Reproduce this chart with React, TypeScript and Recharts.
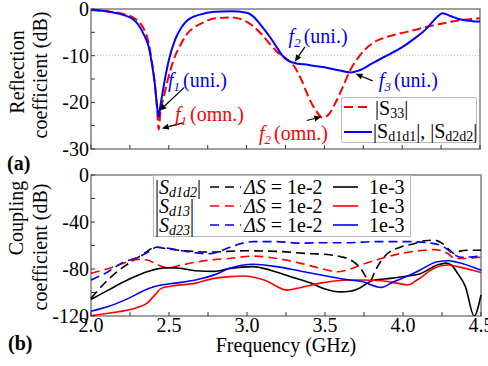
import React from 'react';
import {
  LineChart,
  Line,
  XAxis,
  YAxis,
  ReferenceArea,
  ReferenceLine,
  ReferenceDot,
  Legend,
} from 'recharts';

const FONT = '"Liberation Serif", "Times New Roman", serif';
const RED = '#ff0000';
const BLUE = '#0000ff';
const BLACK = '#000000';
const FRAME = '#808080';
const txt = { fontFamily: FONT };

// axis ticks
const freqTicks = [2, 2.25, 2.5, 2.75, 3, 3.25, 3.5, 3.75, 4, 4.25, 4.5];
const freqLabels = [2, 2.5, 3, 3.5, 4, 4.5];
const reflTicks = [-30, -25, -20, -15, -10, -5, 0];
const reflLabels = [-30, -20, -10, 0];
const coupTicks = [-120, -100, -80, -60, -40, -20, 0];
const coupLabels = [-120, -80, -40, 0];

// (a) reflection coefficient
const s33Freq = [2.0, 2.1, 2.2, 2.27, 2.3, 2.34, 2.37, 2.39, 2.41, 2.425, 2.435, 2.445, 2.47, 2.495, 2.53, 2.58, 2.62, 2.67, 2.72, 2.8, 2.9, 2.98, 3.04, 3.09, 3.15, 3.2, 3.25, 3.3, 3.35, 3.4, 3.45, 3.49, 3.53, 3.58, 3.62, 3.66, 3.72, 3.81, 3.9, 3.99, 4.08, 4.16, 4.26, 4.35, 4.5];
const s33Db = [-0.2, -0.5, -1.0, -1.8, -2.5, -4.3, -7.2, -11, -16, -21.5, -25.8, -22.5, -18.5, -15, -11, -7.4, -5.2, -3.8, -2.9, -2.0, -1.8, -2.4, -3.6, -5.2, -7.5, -9.3, -10.5, -12, -15, -19, -22, -23.3, -22.5, -19.5, -16.6, -13.5, -10.3, -7.3, -6.0, -5.2, -4.5, -3.8, -3.1, -2.5, -2.0];

const sd1d1Freq = [2.0, 2.1, 2.2, 2.27, 2.3, 2.34, 2.37, 2.39, 2.41, 2.425, 2.435, 2.445, 2.47, 2.5, 2.54, 2.58, 2.62, 2.7, 2.795, 2.9, 3.0, 3.05, 3.09, 3.15, 3.2, 3.23, 3.29, 3.4, 3.5, 3.6, 3.67, 3.72, 3.81, 3.9, 3.99, 4.08, 4.16, 4.21, 4.26, 4.31, 4.37, 4.45, 4.5];
const sd1d1Db = [-0.1, -0.5, -1.2, -2.2, -3.2, -5.5, -8, -11.5, -16, -21, -23.1, -21, -16, -11, -6.6, -4, -2.4, -1.2, -0.6, -0.5, -0.8, -1.8, -3.4, -6, -8.5, -10, -11.4, -12, -12.5, -13.2, -13.6, -13.2, -11.6, -10, -8.4, -6.3, -4.1, -2.2, -0.9, -1.5, -2.2, -2.6, -2.7];

// (b) coupling coefficient, ΔS = 1e-2 (dashed) and 1e-3 (solid)
const d1d2CoarseFreq = [2.0, 2.11, 2.2, 2.28, 2.35, 2.41, 2.5, 2.6, 2.77, 2.98, 3.19, 3.41, 3.5, 3.6, 3.66, 3.72, 3.79, 3.82, 3.88, 3.99, 4.07, 4.14, 4.2, 4.25, 4.3, 4.33, 4.36, 4.42, 4.5];
const d1d2CoarseDb = [-105, -89, -79, -72, -66, -61.5, -63, -64.5, -65.5, -64.5, -65, -67, -67.5, -69.5, -72, -78, -90, -82, -69.5, -61, -58.5, -56, -55.5, -58, -64, -67, -65, -64, -64];
const d1d2FineFreq = [2.0, 2.11, 2.24, 2.37, 2.47, 2.54, 2.67, 2.79, 2.89, 3.04, 3.15, 3.28, 3.41, 3.5, 3.6, 3.66, 3.71, 3.81, 3.92, 4.03, 4.11, 4.22, 4.275, 4.31, 4.35, 4.4, 4.456, 4.5];
const d1d2FineDb = [-106, -98, -89, -82, -79, -79, -81.5, -82, -79.5, -78, -81, -86.5, -92, -97, -99.5, -99, -97, -89.5, -88, -86, -84, -76.6, -75, -76.6, -83.7, -95, -120, -102];

const d13CoarseFreq = [2.0, 2.11, 2.24, 2.3, 2.36, 2.43, 2.49, 2.58, 2.69, 2.79, 2.89, 3.04, 3.19, 3.34, 3.47, 3.58, 3.64, 3.73, 3.86, 3.99, 4.11, 4.2, 4.29, 4.33, 4.4, 4.5];
const d13CoarseDb = [-83.7, -79.7, -73.8, -71.8, -72.3, -76.6, -79, -76.6, -73.8, -72, -71, -69, -71, -75, -79.4, -82.3, -81, -76.6, -71, -66.7, -64.4, -63.5, -67, -71, -71, -70];
const d13FineFreq = [2.0, 2.11, 2.3, 2.36, 2.41, 2.45, 2.52, 2.67, 2.79, 2.89, 2.98, 3.11, 3.26, 3.32, 3.47, 3.66, 3.73, 3.86, 3.96, 4.03, 4.09, 4.2, 4.29, 4.35, 4.5];
const d13FineDb = [-119.7, -117.7, -112.6, -109, -102, -96.5, -94.5, -92, -88, -86.5, -86, -89.4, -98, -96.5, -92, -89.4, -89.4, -90, -92, -93.6, -89.4, -79.4, -76.6, -78, -83];

const d23CoarseFreq = [2.0, 2.11, 2.195, 2.3, 2.37, 2.42, 2.495, 2.62, 2.75, 2.82, 2.89, 3.04, 3.19, 3.34, 3.51, 3.66, 3.81, 4.03, 4.18, 4.26, 4.33, 4.37, 4.5];
const d23CoarseDb = [-89.4, -82.3, -75, -70, -65.3, -61.5, -62.4, -65.3, -67, -65.3, -61.5, -56.7, -56.7, -58, -57.6, -57.6, -56.7, -56.7, -58, -61, -68, -70, -69];
const d23FineFreq = [2.0, 2.11, 2.24, 2.37, 2.45, 2.54, 2.67, 2.79, 2.89, 3.04, 3.19, 3.34, 3.51, 3.66, 3.73, 3.86, 3.94, 4.03, 4.11, 4.22, 4.29, 4.34, 4.5];
const d23FineDb = [-116, -112, -105, -96.5, -93.6, -92, -89.4, -85, -79.4, -76, -78, -81.7, -86, -89.4, -90.5, -95.6, -90.8, -86, -80.8, -73.8, -73, -74, -81];

const toRows = (f: number[], v: number[]) => f.map((x, i) => ({ f: x, v: v[i] }));

const couplingSeries = [
  { key: 'd1d2-2', f: d1d2CoarseFreq, v: d1d2CoarseDb, color: BLACK, dashed: true },
  { key: 'd13-2', f: d13CoarseFreq, v: d13CoarseDb, color: RED, dashed: true },
  { key: 'd23-2', f: d23CoarseFreq, v: d23CoarseDb, color: BLUE, dashed: true },
  { key: 'd1d2-3', f: d1d2FineFreq, v: d1d2FineDb, color: BLACK, dashed: false },
  { key: 'd13-3', f: d13FineFreq, v: d13FineDb, color: RED, dashed: false },
  { key: 'd23-3', f: d23FineFreq, v: d23FineDb, color: BLUE, dashed: false },
];

const couplingLegendRows = [
  { sub: 'd1d2', color: BLACK },
  { sub: 'd13', color: RED },
  { sub: 'd23', color: BLUE },
];

// resonance annotations of panel (a)
const annotations = [
  { sub: '1', tail: '(uni.)', color: BLUE, x: 2.495, y: -15.2, from: [2.6, -16.8], to: [2.44, -21.8] },
  { sub: '1', tail: '(omn.)', color: RED, x: 2.54, y: -22.6, from: [2.59, -24.4], to: [2.455, -25.6] },
  { sub: '2', tail: '(uni.)', color: BLUE, x: 3.27, y: -5.8, from: [3.375, -8.1], to: [3.31, -11.3] },
  { sub: '2', tail: '(omn.)', color: RED, x: 3.08, y: -26.6, from: [3.386, -23.9], to: [3.48, -23.1] },
  { sub: '3', tail: '(uni.)', color: BLUE, x: 3.85, y: -15.2, from: [3.81, -15.4], to: [3.7, -13.9] },
];

const isMajor = (v: number, list: number[]) => list.some((l) => Math.abs(l - v) < 1e-6);

const XTick = ({ x, y, payload, showLabel }: any) => (
  <g>
    <line x1={x} y1={y} x2={x} y2={y - 4} stroke="#333" strokeWidth={1} />
    {showLabel && isMajor(payload.value, freqLabels) && (
      <text x={x} y={y + 16} textAnchor="middle" fontSize={20} style={txt} fill="#000">
        {payload.value.toFixed(1)}
      </text>
    )}
  </g>
);

const YTick = ({ x, y, payload, labels }: any) => (
  <g>
    <line x1={x} y1={y} x2={x + 4} y2={y} stroke="#333" strokeWidth={1} />
    {isMajor(payload.value, labels) && (
      <text x={x - 2} y={y + 7} textAnchor="end" fontSize={20} style={txt} fill="#000">
        {payload.value}
      </text>
    )}
  </g>
);

const Arrow = (p: any) => {
  const { x1, y1, x2, y2 } = p;
  const a = Math.atan2(y2 - y1, x2 - x1);
  const L = 7;
  const W = 3;
  const bx = x2 - L * Math.cos(a);
  const by = y2 - L * Math.sin(a);
  const pts = `${x2},${y2} ${bx - W * Math.sin(a)},${by + W * Math.cos(a)} ${bx + W * Math.sin(a)},${by - W * Math.cos(a)}`;
  return (
    <g>
      <line x1={x1} y1={y1} x2={bx} y2={by} stroke="#000" strokeWidth={1.2} />
      <polygon points={pts} fill="#000" />
    </g>
  );
};

const ReflLegend = () => (
  <svg width={136} height={46} style={{ display: 'block', fontFamily: FONT, overflow: 'visible' }}>
    <rect x={0.5} y={0.5} width={135} height={45} rx={2} fill="#fff" stroke="#b8b8b8" />
    <line x1={3} y1={10} x2={31} y2={10} stroke={RED} strokeWidth={2} strokeDasharray="9 5" />
    <text x={34} y={18} fontSize={20} style={txt} fill="#000">
      |S<tspan fontSize={14} dy={3}>33</tspan><tspan dy={-3}>|</tspan>
    </text>
    <line x1={3} y1={35} x2={31} y2={35} stroke={BLUE} strokeWidth={2} />
    <text x={32} y={41} fontSize={20} style={txt} fill="#000">
      |S<tspan fontSize={14} dy={3}>d1d1</tspan><tspan dy={-3}>|, |S</tspan>
      <tspan fontSize={14} dy={3}>d2d2</tspan><tspan dy={-3}>|</tspan>
    </text>
  </svg>
);

const CouplingLegend = () => (
  <svg width={258} height={62} style={{ display: 'block', fontFamily: FONT, overflow: 'visible' }}>
    <rect x={0.5} y={0.5} width={257} height={61} fill="#fff" stroke="#b8b8b8" />
    {couplingLegendRows.map((r, i) => {
      const base = 19 + i * 19;
      return (
        <g key={r.sub}>
          <text x={2} y={base} fontSize={20} style={txt} fill="#000">
            |<tspan fontStyle="italic">S</tspan>
            <tspan fontStyle="italic" fontSize={14} dy={3}>{r.sub}</tspan>
            <tspan dy={-3}>|</tspan>
          </text>
          <line x1={57} y1={base - 7} x2={88} y2={base - 7} stroke={r.color} strokeWidth={1.6} strokeDasharray="9 6" />
          <text x={91} y={base} fontSize={20} style={txt} fill="#000">
            <tspan fontStyle="italic">ΔS</tspan> = 1e-2
          </text>
          <line x1={180} y1={base - 7} x2={205} y2={base - 7} stroke={r.color} strokeWidth={1.6} />
          <text x={216} y={base} fontSize={20} style={txt} fill="#000">1e-3</text>
        </g>
      );
    })}
  </svg>
);

const App: React.FC = () => {
  return (
    <div style={{ position: 'absolute', left: 0, top: 0, width: 488, height: 366, background: '#fff', fontFamily: FONT }}>
      <div style={{ position: 'absolute', left: 0, top: 0 }}>
        <LineChart width={488} height={160} margin={{ top: 9, right: 8, left: 0, bottom: 10 }}>
          <XAxis
            dataKey="f"
            type="number"
            domain={[2, 4.5]}
            ticks={freqTicks}
            interval={0}
            height={1}
            tickSize={0}
            tickMargin={0}
            axisLine={false}
            tickLine={false}
            tick={(p: any) => <XTick {...p} showLabel={false} />}
          />
          <YAxis
            type="number"
            domain={[-30, 0]}
            ticks={reflTicks}
            interval={0}
            width={91}
            tickSize={0}
            tickMargin={0}
            axisLine={false}
            tickLine={false}
            allowDataOverflow
            tick={(p: any) => <YTick {...p} labels={reflLabels} />}
          />
          <ReferenceLine y={-10} stroke="#c8c8c8" strokeDasharray="1 2" />
          <ReferenceArea x1={2} x2={4.5} y1={-30} y2={0} fill="none" stroke={FRAME} strokeWidth={1.5} />
          <Line data={toRows(s33Freq, s33Db)} dataKey="v" type="monotone" stroke={RED} strokeWidth={2} strokeDasharray="9 4" dot={false} isAnimationActive={false} />
          <Line data={toRows(sd1d1Freq, sd1d1Db)} dataKey="v" type="monotone" stroke={BLUE} strokeWidth={2} dot={false} isAnimationActive={false} />
          {annotations.map((a, i) => (
            <ReferenceLine
              key={`arr-${i}`}
              segment={[{ x: a.from[0], y: a.from[1] }, { x: a.to[0], y: a.to[1] }]}
              shape={Arrow}
            />
          ))}
          {annotations.map((a, i) => (
            <ReferenceDot
              key={`txt-${i}`}
              x={a.x}
              y={a.y}
              r={0}
              shape={(p: any) => (
                <text x={p.cx} y={p.cy + 7} fill={a.color} fontSize={20} style={txt}>
                  <tspan fontStyle="italic">f</tspan>
                  <tspan fontStyle="italic" fontSize={13} dy={4}>{a.sub}</tspan>
                  <tspan dy={-4} dx={3}>{a.tail}</tspan>
                </text>
              )}
            />
          ))}
          <Legend
            layout="horizontal"
            verticalAlign="middle"
            align="center"
            content={() => <ReflLegend />}
            wrapperStyle={{ left: 341, top: 97, width: 136, height: 46 }}
          />
        </LineChart>
      </div>
      <div style={{ position: 'absolute', left: 0, top: 160 }}>
        <LineChart width={488} height={206} margin={{ top: 15, right: 7, left: 0, bottom: 0 }}>
          <XAxis
            dataKey="f"
            type="number"
            domain={[2, 4.5]}
            ticks={freqTicks}
            interval={0}
            height={50}
            tickSize={0}
            tickMargin={0}
            axisLine={false}
            tickLine={false}
            tick={(p: any) => <XTick {...p} showLabel />}
          />
          <YAxis
            type="number"
            domain={[-120, 0]}
            ticks={coupTicks}
            interval={0}
            width={91}
            tickSize={0}
            tickMargin={0}
            axisLine={false}
            tickLine={false}
            allowDataOverflow
            tick={(p: any) => <YTick {...p} labels={coupLabels} />}
          />
          <ReferenceArea x1={2} x2={4.5} y1={-120} y2={0} fill="none" stroke={FRAME} strokeWidth={1.5} />
          {couplingSeries.map((s) => (
            <Line
              key={s.key}
              data={toRows(s.f, s.v)}
              dataKey="v"
              type="monotone"
              stroke={s.color}
              strokeWidth={1.6}
              strokeDasharray={s.dashed ? '9 5' : undefined}
              dot={false}
              isAnimationActive={false}
            />
          ))}
          <Legend
            layout="horizontal"
            verticalAlign="middle"
            align="center"
            content={() => <CouplingLegend />}
            wrapperStyle={{ left: 153, top: 15, width: 258, height: 62 }}
          />
        </LineChart>
      </div>
      <svg
        width={488}
        height={366}
        style={{ position: 'absolute', left: 0, top: 0, pointerEvents: 'none', fontFamily: FONT }}
        fontSize={20}
      >
        <text transform="translate(24,72) rotate(-90)" textAnchor="middle">Reflection</text>
        <text transform="translate(47,75) rotate(-90)" textAnchor="middle">coefficient (dB)</text>
        <text x={7} y={170} fontWeight="bold">(a)</text>
        <text transform="translate(23,218) rotate(-90)" textAnchor="middle">Coupling</text>
        <text transform="translate(47,247) rotate(-90)" textAnchor="middle">coefficient (dB)</text>
        <text x={8} y={350} fontWeight="bold">(b)</text>
        <text x={286} y={352} textAnchor="middle">Frequency (GHz)</text>
      </svg>
    </div>
  );
};

export default App;
